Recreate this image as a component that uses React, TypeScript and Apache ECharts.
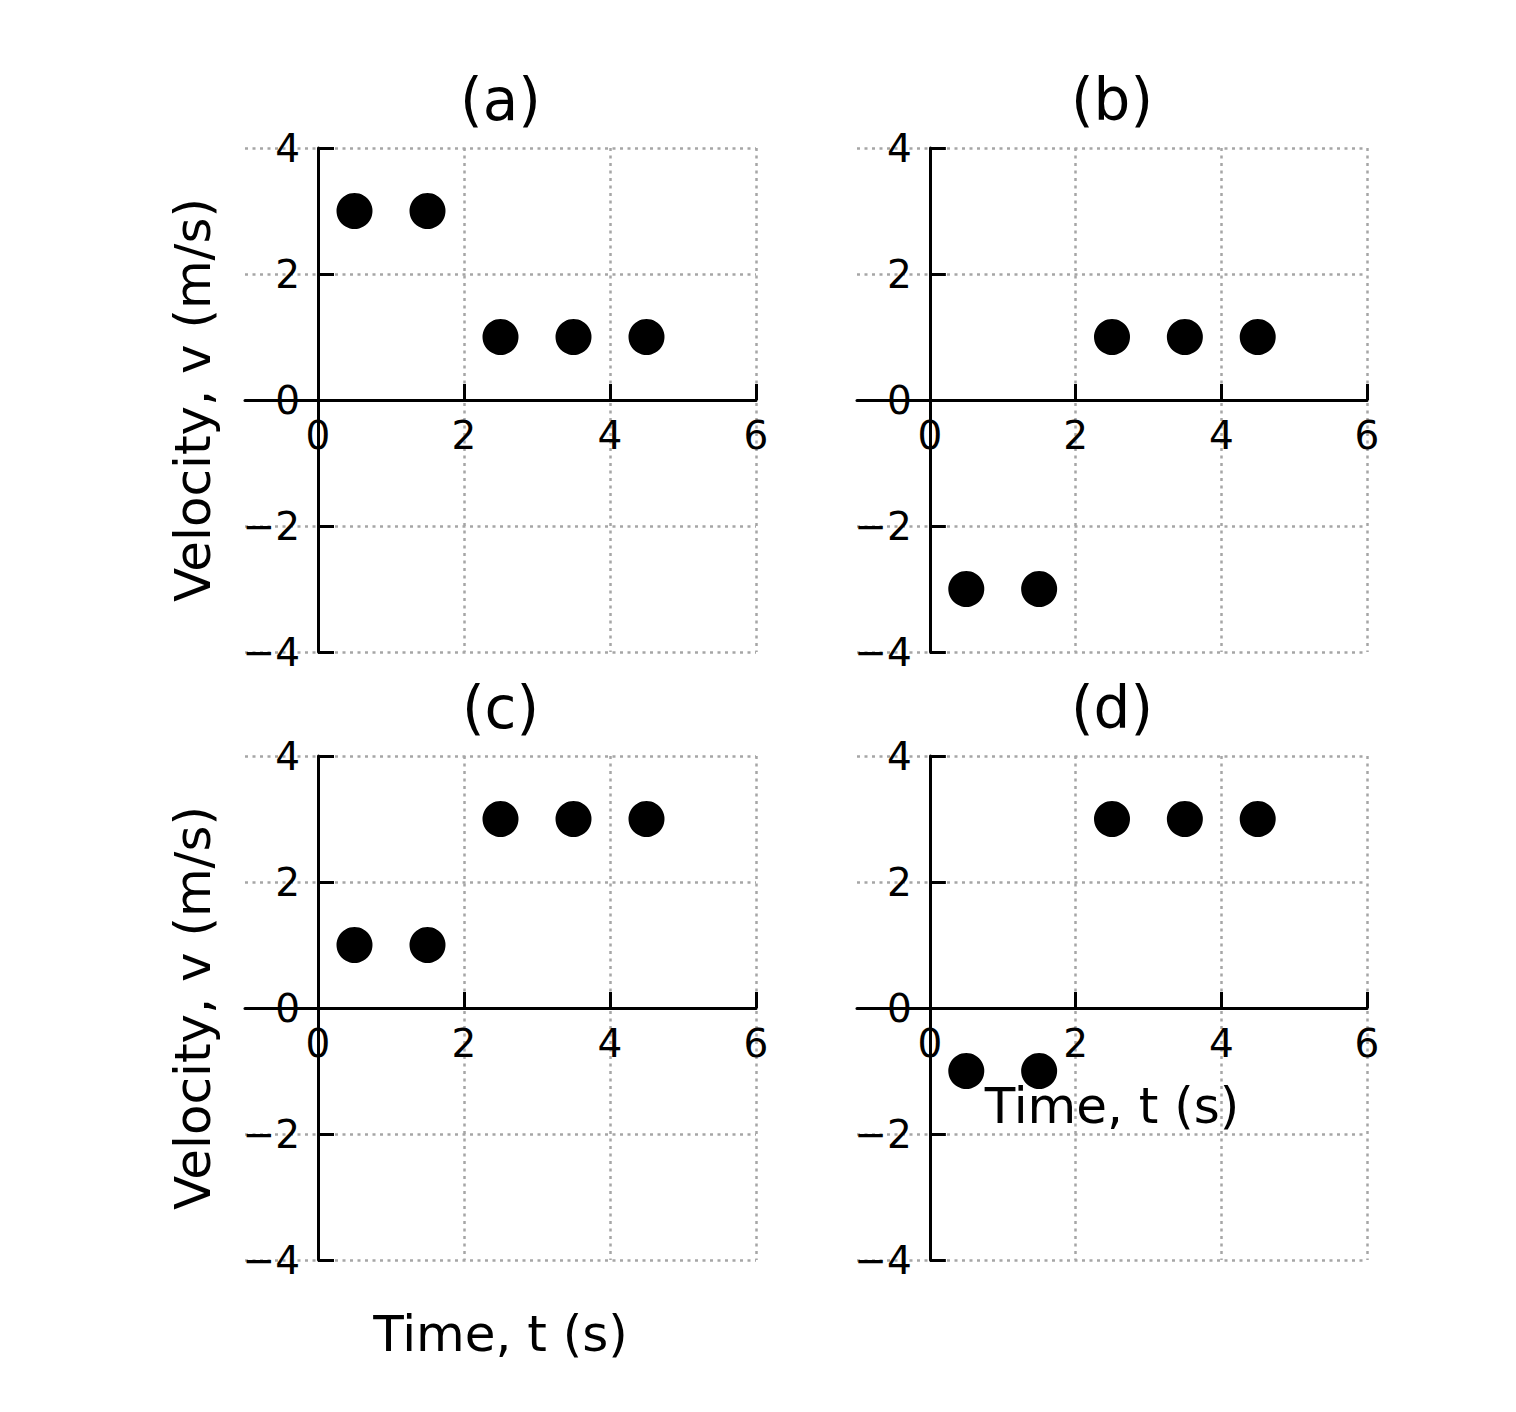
import React, { useEffect, useRef } from "react";
import * as echarts from "echarts";

const times = [0.5, 1.5, 2.5, 3.5, 4.5];
const velocityA = [3, 3, 1, 1, 1];
const velocityB = [-3, -3, 1, 1, 1];
const velocityC = [1, 1, 3, 3, 3];
const velocityD = [-1, -1, 3, 3, 3];
const panelSeries = [velocityA, velocityB, velocityC, velocityD];
const panelTitles = ["(a)", "(b)", "(c)", "(d)"];
const xLabelValues = [0, 2, 4, 6];
const xTickValues = [2, 4, 6];
const yLabelValues = [-4, -2, 0, 2, 4];
const yTickValues = [-4, -2, 2, 4];
const xName = "Time, t (s)";
const yName = "Velocity, v (m/s)";

const FONT = "'DejaVu Sans', 'Liberation Sans', sans-serif";

const X_MIN = -1;
const X_MAX = 6;
const Y_MIN = -4;
const Y_MAX = 4;

const panels = [
  { left: 245, top: 148, width: 511 },
  { left: 857, top: 148, width: 510 },
  { left: 245, top: 756, width: 511 },
  { left: 857, top: 756, width: 510 },
];
const panelHeight = 504;

const gridLine = { color: "#a6a6a6", width: 2.5, type: [3, 4.5] as number[] };
const minus = (v: number) => String(v).replace("-", "\u2212");

export default function App() {
  const ref = useRef<HTMLDivElement>(null);
  useEffect(() => {
    if (!ref.current) return;
    const chart = echarts.init(ref.current, null, { renderer: "svg" });
    const option: any = {
      animation: false,
      backgroundColor: "#ffffff",
      grid: panels.map((p) => ({
        left: p.left,
        top: p.top,
        width: p.width,
        height: panelHeight,
      })),
      xAxis: panels.map((p, i) => ({
        type: "value",
        gridIndex: i,
        position: "bottom",
        // move the whole axis (line, ticks, labels) up to v = 0
        offset: -(panelHeight * (0 - Y_MIN)) / (Y_MAX - Y_MIN),
        min: X_MIN,
        max: X_MAX,
        axisLine: { show: true, onZero: false, lineStyle: { color: "#000", width: 3 } },
        axisTick: {
          show: true,
          inside: true,
          length: 16,
          customValues: xTickValues,
          lineStyle: { color: "#000", width: 3 },
        },
        axisLabel: {
          show: true,
          customValues: xLabelValues,
          color: "#000",
          fontSize: 39,
          fontFamily: FONT,
          margin: 16,
          formatter: (v: number) => minus(v),
        },
        splitLine: { show: true, lineStyle: gridLine },
      })),
      yAxis: panels.map((p, i) => ({
        type: "value",
        gridIndex: i,
        position: "left",
        // move the whole axis to t = 0
        offset: -(p.width * (0 - X_MIN)) / (X_MAX - X_MIN),
        min: Y_MIN,
        max: Y_MAX,
        interval: 2,
        axisLine: { show: true, onZero: false, lineStyle: { color: "#000", width: 3 } },
        axisTick: {
          show: true,
          inside: true,
          length: 16,
          customValues: yTickValues,
          lineStyle: { color: "#000", width: 3 },
        },
        axisLabel: {
          show: true,
          customValues: yLabelValues,
          color: "#000",
          fontSize: 39,
          fontFamily: FONT,
          margin: 18,
          formatter: (v: number) => minus(v),
        },
        splitLine: { show: true, lineStyle: gridLine },
      })),
      series: panelSeries.map((vals, i) => ({
        type: "scatter",
        xAxisIndex: i,
        yAxisIndex: i,
        symbol: "circle",
        symbolSize: 36,
        itemStyle: { color: "#000", opacity: 1 },
        z: 5,
        data: times.map((t, j) => [t, vals[j]]),
      })),
      graphic: [
        ...panelTitles.map((t, i) => ({
          type: "text",
          x: panels[i].left + panels[i].width / 2,
          y: panels[i].top - 48,
          style: {
            text: t,
            fontSize: 58,
            fontFamily: FONT,
            fill: "#000",
            align: "center",
            verticalAlign: "middle",
          },
        })),
        ...[0, 2].map((i) => ({
          type: "text",
          x: 193,
          y: panels[i].top + panelHeight / 2,
          rotation: Math.PI / 2,
          style: {
            text: yName,
            fontSize: 50,
            fontFamily: FONT,
            fill: "#000",
            align: "center",
            verticalAlign: "middle",
          },
        })),
        {
          type: "text",
          x: panels[2].left + panels[2].width / 2,
          y: 1334,
          style: {
            text: xName,
            fontSize: 50,
            fontFamily: FONT,
            fill: "#000",
            align: "center",
            verticalAlign: "middle",
          },
        },
        {
          type: "text",
          x: panels[3].left + panels[3].width / 2,
          y: 1106,
          style: {
            text: xName,
            fontSize: 50,
            fontFamily: FONT,
            fill: "#000",
            align: "center",
            verticalAlign: "middle",
          },
        },
      ],
    };
    chart.setOption(option);
    return () => chart.dispose();
  }, []);
  return (
    <div
      ref={ref}
      style={{ position: "absolute", left: 0, top: 0, width: 1516, height: 1412, background: "#fff" }}
    />
  );
}
